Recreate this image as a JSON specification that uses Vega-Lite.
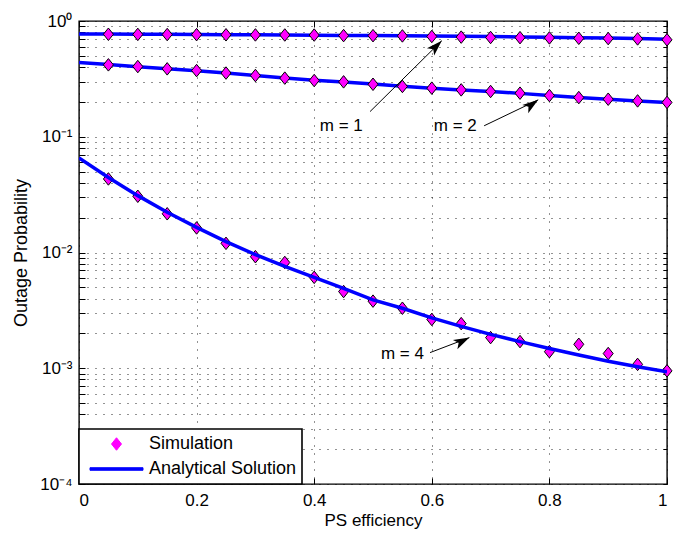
{
  "$schema": "https://vega.github.io/schema/vega-lite/v6.json",
  "autosize": "none",
  "width": 588,
  "height": 463,
  "padding": {"left": 79, "top": 21, "right": 6, "bottom": 50},
  "background": "white",
  "config": {
    "font": "Liberation Sans",
    "view": {"stroke": "black", "strokeWidth": 1.4},
    "axis": {
      "labelFont": "Liberation Sans",
      "titleFont": "Liberation Sans",
      "labelColor": "black",
      "titleColor": "black",
      "titleFontWeight": "normal",
      "labelFontSize": 17,
      "titleFontSize": 17,
      "domain": false,
      "tickColor": "black",
      "gridColor": "#000000",
      "gridDash": [1, 7],
      "gridOpacity": 0.85,
      "gridWidth": 1
    },
    "legend": {
      "orient": "bottom-left",
      "offset": 0,
      "padding": 5,
      "rowPadding": 5,
      "clipHeight": 20,
      "labelFont": "Liberation Sans",
      "labelFontSize": 18,
      "labelColor": "black",
      "labelOffset": 0,
      "strokeColor": "black",
      "fillColor": "white",
      "cornerRadius": 0
    }
  },
  "datasets": {
    "curves": [
      {"x": 0, "p": 0.773, "m": "1"}, {"x": 0.05, "p": 0.771, "m": "1"}, {"x": 0.1, "p": 0.769, "m": "1"}, {"x": 0.15, "p": 0.767, "m": "1"}, {"x": 0.2, "p": 0.765, "m": "1"}, {"x": 0.25, "p": 0.762, "m": "1"}, {"x": 0.3, "p": 0.76, "m": "1"}, {"x": 0.35, "p": 0.757, "m": "1"}, {"x": 0.4, "p": 0.754, "m": "1"}, {"x": 0.45, "p": 0.751, "m": "1"}, {"x": 0.5, "p": 0.748, "m": "1"}, {"x": 0.55, "p": 0.745, "m": "1"}, {"x": 0.6, "p": 0.741, "m": "1"}, {"x": 0.65, "p": 0.737, "m": "1"}, {"x": 0.7, "p": 0.733, "m": "1"}, {"x": 0.75, "p": 0.728, "m": "1"}, {"x": 0.8, "p": 0.723, "m": "1"}, {"x": 0.85, "p": 0.718, "m": "1"}, {"x": 0.9, "p": 0.712, "m": "1"}, {"x": 0.95, "p": 0.705, "m": "1"}, {"x": 1, "p": 0.697, "m": "1"},
      {"x": 0, "p": 0.437, "m": "2"}, {"x": 0.05, "p": 0.42, "m": "2"}, {"x": 0.1, "p": 0.403, "m": "2"}, {"x": 0.15, "p": 0.387, "m": "2"}, {"x": 0.2, "p": 0.372, "m": "2"}, {"x": 0.25, "p": 0.356, "m": "2"}, {"x": 0.3, "p": 0.338, "m": "2"}, {"x": 0.35, "p": 0.322, "m": "2"}, {"x": 0.4, "p": 0.308, "m": "2"}, {"x": 0.45, "p": 0.297, "m": "2"}, {"x": 0.5, "p": 0.285, "m": "2"}, {"x": 0.55, "p": 0.273, "m": "2"}, {"x": 0.6, "p": 0.263, "m": "2"}, {"x": 0.65, "p": 0.254, "m": "2"}, {"x": 0.7, "p": 0.246, "m": "2"}, {"x": 0.75, "p": 0.237, "m": "2"}, {"x": 0.8, "p": 0.227, "m": "2"}, {"x": 0.85, "p": 0.218, "m": "2"}, {"x": 0.9, "p": 0.211, "m": "2"}, {"x": 0.95, "p": 0.204, "m": "2"}, {"x": 1, "p": 0.198, "m": "2"},
      {"x": 0, "p": 0.0655, "m": "4"}, {"x": 0.05, "p": 0.0445, "m": "4"}, {"x": 0.1, "p": 0.031, "m": "4"}, {"x": 0.15, "p": 0.0223, "m": "4"}, {"x": 0.2, "p": 0.0165, "m": "4"}, {"x": 0.25, "p": 0.0124, "m": "4"}, {"x": 0.3, "p": 0.0096, "m": "4"}, {"x": 0.35, "p": 0.0076, "m": "4"}, {"x": 0.4, "p": 0.0061, "m": "4"}, {"x": 0.45, "p": 0.0049, "m": "4"}, {"x": 0.5, "p": 0.0039, "m": "4"}, {"x": 0.55, "p": 0.0033, "m": "4"}, {"x": 0.6, "p": 0.00272, "m": "4"}, {"x": 0.65, "p": 0.0023, "m": "4"}, {"x": 0.7, "p": 0.00196, "m": "4"}, {"x": 0.75, "p": 0.0017, "m": "4"}, {"x": 0.8, "p": 0.00148, "m": "4"}, {"x": 0.85, "p": 0.0013, "m": "4"}, {"x": 0.9, "p": 0.00115, "m": "4"}, {"x": 0.95, "p": 0.00103, "m": "4"}, {"x": 1, "p": 0.00093, "m": "4"}
    ],
    "sims": [
      {"x": 0.05, "p": 0.768, "m": "1"}, {"x": 0.1, "p": 0.766, "m": "1"}, {"x": 0.15, "p": 0.764, "m": "1"}, {"x": 0.2, "p": 0.762, "m": "1"}, {"x": 0.25, "p": 0.76, "m": "1"}, {"x": 0.3, "p": 0.758, "m": "1"}, {"x": 0.35, "p": 0.757, "m": "1"}, {"x": 0.4, "p": 0.756, "m": "1"}, {"x": 0.45, "p": 0.748, "m": "1"}, {"x": 0.5, "p": 0.747, "m": "1"}, {"x": 0.55, "p": 0.743, "m": "1"}, {"x": 0.6, "p": 0.735, "m": "1"}, {"x": 0.65, "p": 0.726, "m": "1"}, {"x": 0.7, "p": 0.72, "m": "1"}, {"x": 0.75, "p": 0.718, "m": "1"}, {"x": 0.8, "p": 0.714, "m": "1"}, {"x": 0.85, "p": 0.709, "m": "1"}, {"x": 0.9, "p": 0.705, "m": "1"}, {"x": 0.95, "p": 0.7, "m": "1"}, {"x": 1, "p": 0.688, "m": "1"},
      {"x": 0.05, "p": 0.418, "m": "2"}, {"x": 0.1, "p": 0.404, "m": "2"}, {"x": 0.15, "p": 0.386, "m": "2"}, {"x": 0.2, "p": 0.373, "m": "2"}, {"x": 0.25, "p": 0.355, "m": "2"}, {"x": 0.3, "p": 0.338, "m": "2"}, {"x": 0.35, "p": 0.321, "m": "2"}, {"x": 0.4, "p": 0.306, "m": "2"}, {"x": 0.45, "p": 0.298, "m": "2"}, {"x": 0.5, "p": 0.284, "m": "2"}, {"x": 0.55, "p": 0.272, "m": "2"}, {"x": 0.6, "p": 0.263, "m": "2"}, {"x": 0.65, "p": 0.254, "m": "2"}, {"x": 0.7, "p": 0.246, "m": "2"}, {"x": 0.75, "p": 0.238, "m": "2"}, {"x": 0.8, "p": 0.227, "m": "2"}, {"x": 0.85, "p": 0.218, "m": "2"}, {"x": 0.9, "p": 0.211, "m": "2"}, {"x": 0.95, "p": 0.204, "m": "2"}, {"x": 1, "p": 0.198, "m": "2"},
      {"x": 0.05, "p": 0.0432, "m": "4"}, {"x": 0.1, "p": 0.0306, "m": "4"}, {"x": 0.15, "p": 0.0216, "m": "4"}, {"x": 0.2, "p": 0.0163, "m": "4"}, {"x": 0.25, "p": 0.012, "m": "4"}, {"x": 0.3, "p": 0.0092, "m": "4"}, {"x": 0.35, "p": 0.0082, "m": "4"}, {"x": 0.4, "p": 0.0061, "m": "4"}, {"x": 0.45, "p": 0.0046, "m": "4"}, {"x": 0.5, "p": 0.0038, "m": "4"}, {"x": 0.55, "p": 0.0033, "m": "4"}, {"x": 0.6, "p": 0.00264, "m": "4"}, {"x": 0.65, "p": 0.00243, "m": "4"}, {"x": 0.7, "p": 0.00184, "m": "4"}, {"x": 0.75, "p": 0.0017, "m": "4"}, {"x": 0.8, "p": 0.00139, "m": "4"}, {"x": 0.85, "p": 0.00161, "m": "4"}, {"x": 0.9, "p": 0.00134, "m": "4"}, {"x": 0.95, "p": 0.00108, "m": "4"}, {"x": 1, "p": 0.00095, "m": "4"}
    ],
    "notes": [
      {"label": "m = 1", "x": 0.446, "p": 0.1227},
      {"label": "m = 2", "x": 0.64, "p": 0.1227},
      {"label": "m = 4", "x": 0.55, "p": 0.00132}
    ],
    "arrows": [
      {"id": "m1", "x": 0.495, "p": 0.165, "x2": 0.617, "p2": 0.676},
      {"id": "m2", "x": 0.689, "p": 0.1244, "x2": 0.781, "p2": 0.2085},
      {"id": "m4", "x": 0.597, "p": 0.001365, "x2": 0.664, "p2": 0.00184}
    ]
  },
  "resolve": {"axis": {"x": "independent", "y": "independent"}},
  "layer": [
    {
      "data": {"name": "curves"},
      "transform": [{"filter": "datum.m !== '4'"}, {"calculate": "'Analytical Solution'", "as": "type"}],
      "mark": {"type": "line", "strokeWidth": 3.5, "clip": true},
      "encoding": {
        "x": {"field": "x", "type": "quantitative", "scale": {"domain": [0, 1], "nice": false},
          "axis": {"title": "PS efficiency", "values": [0, 0.2, 0.4, 0.6, 0.8, 1], "format": "~g", "tickSize": -6, "labelPadding": 14, "titlePadding": 4, "grid": true, "orient": "bottom"}},
        "y": {"field": "p", "type": "quantitative",
          "scale": {"type": "log", "domain": [0.0001, 1], "nice": false},
          "axis": {"title": "Outage Probability", "orient": "left", "titleFontSize": 18,
            "values": [0.0001, 0.0002, 0.0003, 0.0004, 0.0005, 0.0006, 0.0007, 0.0008, 0.0009, 0.001, 0.002, 0.003, 0.004, 0.005, 0.006, 0.007, 0.008, 0.009, 0.01, 0.02, 0.03, 0.04, 0.05, 0.06, 0.07, 0.08, 0.09, 0.1, 0.2, 0.3, 0.4, 0.5, 0.6, 0.7, 0.8, 0.9, 1],
            "labelExpr": "datum.value == 1 ? '10⁰' : datum.value == 0.1 ? '10⁻¹' : datum.value == 0.01 ? '10⁻²' : datum.value == 0.001 ? '10⁻³' : datum.value == 0.0001 ? '10⁻⁴' : ''",
            "tickSize": -6, "labelPadding": 13, "titlePadding": 9, "grid": true}},
        "detail": {"field": "m"},
        "color": {"field": "type", "type": "nominal",
          "scale": {"domain": ["Simulation", "Analytical Solution"], "range": ["#ff00ff", "#0000ff"]},
          "legend": {"title": null, "symbolSize": 4096, "symbolStrokeWidth": 1,
            "encode": {"symbols": {"update": {
              "shape": {"signal": "datum.value === 'Simulation' ? 'M0,-0.195L0.156,0L0,0.195L-0.156,0Z' : 'M-0.828,-0.04L0.828,-0.04L0.828,0.04L-0.828,0.04Z'"},
              "fill": {"signal": "datum.value === 'Simulation' ? '#ff00ff' : '#0000ff'"},
              "stroke": {"signal": "datum.value === 'Simulation' ? '#000000' : '#0000ff'"},
              "opacity": {"value": 1},
              "fillOpacity": {"value": 1}
            }}, "legend": {"update": {"strokeWidth": {"value": 1.6}}}}}}
      }
    },
    {
      "data": {"name": "sims"},
      "transform": [{"calculate": "'Simulation'", "as": "type"}],
      "mark": {"type": "point", "filled": true, "shape": "M0,-1.25L1,0L0,1.25L-1,0Z", "size": 100, "stroke": "black", "strokeWidth": 1, "opacity": 1},
      "encoding": {
        "x": {"field": "x", "type": "quantitative",
          "axis": {"orient": "top", "labels": false, "title": null, "grid": false, "values": [0, 0.2, 0.4, 0.6, 0.8, 1], "tickSize": -6}},
        "y": {"field": "p", "type": "quantitative",
          "axis": {"orient": "right", "labels": false, "title": null, "grid": false,
            "values": [0.0001, 0.0002, 0.0003, 0.0004, 0.0005, 0.0006, 0.0007, 0.0008, 0.0009, 0.001, 0.002, 0.003, 0.004, 0.005, 0.006, 0.007, 0.008, 0.009, 0.01, 0.02, 0.03, 0.04, 0.05, 0.06, 0.07, 0.08, 0.09, 0.1, 0.2, 0.3, 0.4, 0.5, 0.6, 0.7, 0.8, 0.9, 1],
            "tickSize": -4}},
        "color": {"field": "type", "type": "nominal"}
      }
    },
    {
      "data": {"name": "curves"},
      "transform": [{"filter": "datum.m === '4'"}, {"calculate": "'Analytical Solution'", "as": "type"}],
      "mark": {"type": "line", "strokeWidth": 3.5, "clip": true},
      "encoding": {
        "x": {"field": "x", "type": "quantitative", "axis": null},
        "y": {"field": "p", "type": "quantitative", "axis": null},
        "color": {"field": "type", "type": "nominal"}
      }
    },
    {
      "data": {"name": "arrows"},
      "mark": {"type": "rule", "color": "black", "strokeWidth": 1},
      "encoding": {
        "x": {"field": "x", "type": "quantitative", "axis": null},
        "y": {"field": "p", "type": "quantitative", "axis": null},
        "x2": {"field": "x2"},
        "y2": {"field": "p2"}
      }
    },
    {
      "data": {"name": "arrows"},
      "mark": {"type": "point", "filled": true, "color": "black", "opacity": 1, "shape": "M0,0L1.7,5.3L0,4L-1.7,5.3Z", "size": 36},
      "encoding": {
        "x": {"field": "x2", "type": "quantitative", "axis": null},
        "y": {"field": "p2", "type": "quantitative", "axis": null},
        "angle": {"field": "id", "type": "nominal", "scale": {"domain": ["m1", "m2", "m4"], "range": [45, 64, 69]}, "legend": null}
      }
    },
    {
      "data": {"name": "notes"},
      "mark": {"type": "text", "font": "Liberation Sans", "fontSize": 17, "color": "black", "align": "center", "baseline": "middle"},
      "encoding": {
        "x": {"field": "x", "type": "quantitative", "axis": null},
        "y": {"field": "p", "type": "quantitative", "axis": null},
        "text": {"field": "label"}
      }
    }
  ]
}
